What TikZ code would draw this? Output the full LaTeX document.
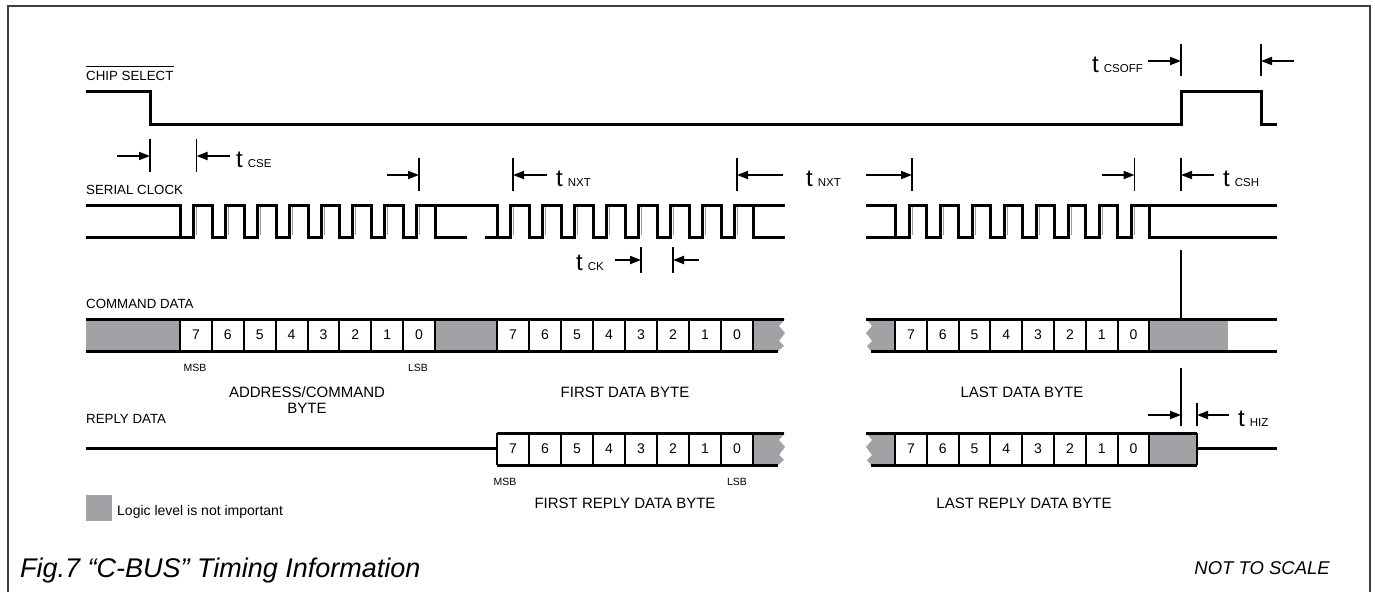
\documentclass[tikz,border=0pt]{standalone}
\usepackage{fontspec}
\setmainfont{Liberation Sans}
\usetikzlibrary{arrows.meta}
\definecolor{dcgray}{RGB}{160,162,166}
\newcommand\fsz[1]{\fontsize{#1}{#1}\selectfont}
\newcommand\tickmark[4]{\coordinate (#1t) at (#2,#3); \coordinate (#1b) at (#2,#4); \draw[tickln] (#1t) -- (#1b);}
\newcommand\dimarrow[4]{\coordinate (#1s) at (#2,#4); \coordinate (#1e) at (#3,#4); \draw[dimarr] (#1s) -- (#1e);}
\newcommand\tlab[3]{\node[inner sep=0pt,anchor=base west] (#1) at (#2) {\fsz{24}t\hspace{5pt}\fsz{11.5}#3};}
\newcommand\cellrow[5]{%
  \foreach \k [evaluate=\k as \d using int(7-\k)] in {0,...,7}{
    \node[digit] (#5\k) at ({#1+(\k+0.5)*#2},{(#3+#4)/2}) {\d};
    \draw[cellline] ({#1+\k*#2},#3) -- ({#1+\k*#2},#4);
  }
  \draw[cellline] ({#1+8*#2},#3) -- ({#1+8*#2},#4);
}
\begin{document}
\begin{tikzpicture}[x=1pt,y=-1pt,
  sig/.style={line width=3pt},
  cellline/.style={line width=2pt},
  tickln/.style={line width=1.5pt},
  dimarr/.style={line width=1.9pt,-{Triangle[length=11pt,width=8pt]}},
  lbl/.style={inner sep=0pt,anchor=base west,font=\fsz{13.3}},
  digit/.style={inner sep=0pt,font=\fsz{14}},
  smalltxt/.style={inner sep=0pt,anchor=base,font=\fsz{10.5}},
  bytecap/.style={inner sep=0pt,anchor=base,font=\fsz{15}},
  edgegray/.style={black!40,line width=0.9pt},
]
\useasboundingbox (0,0) rectangle (1375,592);
\draw[line width=1.2pt, black!75] (8,592) -- (8,6) -- (1370,6) -- (1370,592);

% ---------- CHIP SELECT ----------
\node[lbl] (csl) at (86,80) {CHIP SELECT};
\draw[line width=1.1pt] ([yshift=4pt]csl.north west) -- ([yshift=4pt]csl.north east);
\draw[sig] (86,91) -- (150,91) -- (150,124) -- (1181,124) -- (1181,91) -- (1261,91) -- (1261,124) -- (1277,124);

% t CSOFF
\tickmark{ka}{1181}{44}{76}
\tickmark{kb}{1261}{44}{76}
\dimarrow{aa}{1148}{1181}{61}
\dimarrow{ab}{1294}{1261}{61}
\tlab{tcsoff}{1092,72}{CSOFF}

% t CSE
\tickmark{kc}{150}{139}{172}
\tickmark{kd}{196.5}{139}{172}
\dimarrow{ac}{117}{150}{156}
\dimarrow{ad}{230}{196.5}{156}
\tlab{tcse}{236,167}{CSE}

% ---------- SERIAL CLOCK ----------
\node[lbl] (sck) at (86,194) {SERIAL CLOCK};
\def\xa{180.5}\def\wa{31.875}
\def\xb{497}\def\wb{32}
\def\xc{895}\def\wc{31.8}
\foreach \k in {0,...,7}{
  \draw[edgegray] ({\xa+\k*\wa+16},207) -- ({\xa+\k*\wa+16},235);
  \draw[edgegray] ({\xb+\k*\wb+16},207) -- ({\xb+\k*\wb+16},235);
  \draw[edgegray] ({\xc+\k*\wc+17},207) -- ({\xc+\k*\wc+17},235);
}
% byte 1
\draw[sig] (86,205) -- (\xa,205) -- (\xa,237);
\draw[sig] (86,237) -- (\xa,237)
  foreach \k in {0,...,6}{ -- ({\xa+\k*\wa+13},237) -- ({\xa+\k*\wa+13},205) -- ({\xa+(\k+1)*\wa},205) -- ({\xa+(\k+1)*\wa},237) }
  -- ({\xa+7*\wa+13},237) -- ({\xa+7*\wa+13},205) -- (\xb,205) -- (\xb,237);
\draw[sig] ({\xa+8*\wa},205) -- ({\xa+8*\wa},237) -- (467,237);
% byte 2
\draw[sig] (485,237) -- (\xb,237)
  foreach \k in {0,...,6}{ -- ({\xb+\k*\wb+13},237) -- ({\xb+\k*\wb+13},205) -- ({\xb+(\k+1)*\wb},205) -- ({\xb+(\k+1)*\wb},237) }
  -- ({\xb+7*\wb+13},237) -- ({\xb+7*\wb+13},205) -- (785,205);
\draw[sig] ({\xb+8*\wb},205) -- ({\xb+8*\wb},237) -- (785,237);
% byte 3
\draw[sig] (866,205) -- (\xc,205) -- (\xc,237);
\draw[sig] (866,237) -- (\xc,237)
  foreach \k in {0,...,6}{ -- ({\xc+\k*\wc+14},237) -- ({\xc+\k*\wc+14},205) -- ({\xc+(\k+1)*\wc},205) -- ({\xc+(\k+1)*\wc},237) }
  -- ({\xc+7*\wc+14},237) -- ({\xc+7*\wc+14},205) -- (1277,205);
\draw[sig] ({\xc+8*\wc},205) -- ({\xc+8*\wc},237) -- (1277,237);

% clock timing marks
\tickmark{ke}{419}{158}{191}
\dimarrow{ae}{387}{419}{175}
\tickmark{kf}{513}{158}{191}
\dimarrow{af}{547}{513}{175}
\tlab{tnxta}{556,186}{NXT}
\tickmark{kg}{737}{158}{191}
\dimarrow{ag}{783}{737}{175}
\tlab{tnxtb}{806,186}{NXT}
\tickmark{kh}{912}{158}{191}
\dimarrow{ah}{866}{912}{175}
\tickmark{ki}{1134.5}{158}{191}
\dimarrow{ai}{1102}{1134.5}{175}
\tickmark{kj}{1181}{158}{191}
\dimarrow{aj}{1214}{1181}{175}
\tlab{tcsh}{1223,186}{CSH}
% t CK
\tickmark{kk}{641}{247}{273}
\tickmark{kl}{673}{247}{273}
\dimarrow{ak}{615}{641}{260}
\dimarrow{al}{699}{673}{260}
\tlab{tck}{576,270}{CK}

% ---------- COMMAND DATA ----------
\node[lbl] (cmd) at (86,308) {COMMAND DATA};
\tickmark{km}{1181}{250}{319}
\fill[dcgray] (86,319) rectangle (180,351);
\fill[dcgray] (435,319) rectangle (497,351);
\fill[dcgray] (753,319) -- (785,319) -- (779,326) -- (785,333) -- (779,341) -- (784,346) -- (778,351) -- (753,351) -- cycle;
\fill[dcgray] (866,319) -- (895,319) -- (895,351) -- (871,351) -- (867,346) -- (872,341) -- (866,333) -- (872,326) -- cycle;
\fill[dcgray] (1149.4,319) rectangle (1228,351);
\cellrow{180}{31.875}{319}{351}{ca}
\cellrow{497}{32}{319}{351}{cb}
\cellrow{895}{31.8}{319}{351}{cc}
\draw[sig] (86,319) -- (784,319);
\draw[sig] (86,351) -- (778,351);
\draw[sig] (866,319) -- (1277,319);
\draw[sig] (871,351) -- (1277,351);

\node[smalltxt] (msba) at (195,371) {MSB};
\node[smalltxt] (lsba) at (418,371) {LSB};
\node[bytecap] (adr) at (307,397) {ADDRESS/COMMAND};
\node[bytecap] (adrb) at (307,413) {BYTE};
\node[bytecap] (fdb) at (625,397) {FIRST DATA BYTE};
\node[bytecap] (ldb) at (1022,397) {LAST DATA BYTE};

% ---------- REPLY DATA ----------
\node[lbl] (rpl) at (86,423) {REPLY DATA};
\tickmark{kn}{1181}{368}{426}
\tickmark{ko}{1197}{403}{426}
\dimarrow{an}{1148}{1181}{415}
\dimarrow{ao}{1229}{1197}{415}
\tlab{thiz}{1238,426}{HIZ}

\fill[dcgray] (753,433) -- (785,433) -- (779,440) -- (785,447) -- (779,455) -- (784,460) -- (778,465) -- (753,465) -- cycle;
\fill[dcgray] (866,433) -- (895,433) -- (895,465) -- (871,465) -- (867,460) -- (872,455) -- (866,447) -- (872,440) -- cycle;
\fill[dcgray] (1149.4,433) rectangle (1197,465);
\cellrow{497}{32}{433}{465}{ra}
\cellrow{895}{31.8}{433}{465}{rb}
\draw[cellline] (1197,433) -- (1197,465);
\draw[sig] (86,448) -- (497,448);
\draw[sig] (497,433) -- (784,433);
\draw[sig] (497,465) -- (778,465);
\draw[sig] (866,433) -- (1197,433);
\draw[sig] (871,465) -- (1197,465);
\draw[sig] (1197,448) -- (1277,448);

\node[smalltxt] (msbb) at (505,485) {MSB};
\node[smalltxt] (lsbb) at (737,485) {LSB};
\node[bytecap] (frb) at (625,508) {FIRST REPLY DATA BYTE};
\node[bytecap] (lrb) at (1024,508) {LAST REPLY DATA BYTE};

% ---------- legend and captions ----------
\node[fill=dcgray, minimum width=26pt, minimum height=26pt, inner sep=0pt, anchor=north west] (leg) at (86,495) {};
\node[lbl, font=\fsz{14}] (legt) at (117,515) {Logic level is not important};
\node[inner sep=0pt, anchor=base west, font=\itshape\fsz{27}] (fig) at (20,577) {Fig.7 “C-BUS” Timing Information};
\node[inner sep=0pt, anchor=base east, font=\itshape\fsz{18.5}] (nts) at (1330,574) {NOT TO SCALE};
\end{tikzpicture}
\end{document}
